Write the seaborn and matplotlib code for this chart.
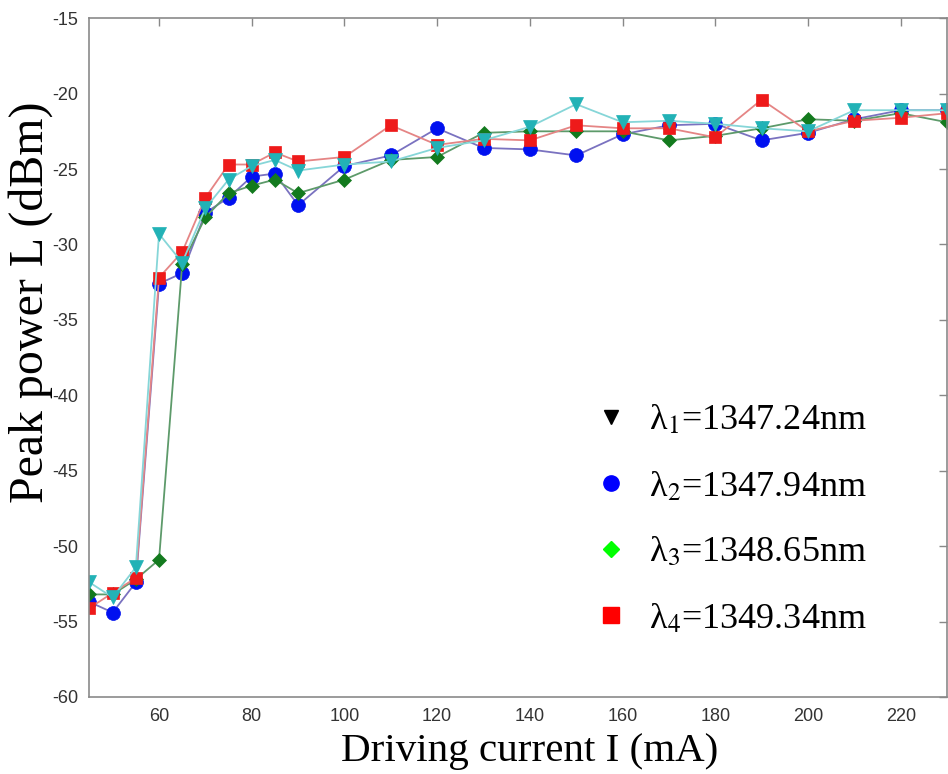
import numpy as np
import pandas as pd
import matplotlib
matplotlib.use("Agg")
import matplotlib.pyplot as plt
from matplotlib.lines import Line2D
import seaborn as sns

current = [45, 50, 55, 60, 65, 70, 75, 80, 85, 90, 100, 110, 120, 130, 140,
           150, 160, 170, 180, 190, 200, 210, 220, 230]
lam1 = [-52.4, -53.4, -51.4, -29.3, -31.2, -27.6, -25.7, -24.8, -24.4, -25.1, -24.7, -24.5,
        -23.6, -23.1, -22.2, -20.7, -21.9, -21.8, -22.0, -22.3, -22.5, -21.1, -21.1, -21.1]
lam2 = [-53.7, -54.4, -52.4, -32.6, -31.9, -27.9, -26.9, -25.5, -25.3, -27.4, -24.8, -24.1,
        -22.3, -23.6, -23.7, -24.1, -22.7, -22.1, -22.0, -23.1, -22.6, -21.7, -21.1, -21.1]
lam3 = [-53.2, -53.2, -52.2, -50.9, -31.3, -28.2, -26.6, -26.1, -25.7, -26.6, -25.7, -24.4,
        -24.2, -22.6, -22.5, -22.5, -22.5, -23.1, -22.8, -22.3, -21.7, -21.8, -21.3, -21.9]
lam4 = [-54.1, -53.1, -52.1, -32.2, -30.5, -26.9, -24.7, -24.7, -23.9, -24.5, -24.2, -22.1,
        -23.4, -23.0, -23.1, -22.1, -22.3, -22.3, -22.9, -20.4, -22.5, -21.8, -21.6, -21.3]
labels = ["λ$_1$=1347.24nm", "λ$_2$=1347.94nm", "λ$_3$=1348.65nm", "λ$_4$=1349.34nm"]
xticks = [60, 80, 100, 120, 140, 160, 180, 200, 220]
yticks = [-60, -55, -50, -45, -40, -35, -30, -25, -20, -15]

sns.set_style("white")
plt.rcParams["mathtext.fontset"] = "stix"
plt.rcParams["axes.unicode_minus"] = False

fig = plt.figure(figsize=(9.48, 7.74), dpi=100)
ax = fig.add_axes([0.0944, 0.0995, 0.9046, 0.877])

df = pd.DataFrame({"I": current, "l1": lam1, "l2": lam2, "l3": lam3, "l4": lam4})

# draw order: blue, green, red, cyan
series = [
    ("l2", "o", "#7a72c0", "#0010f0", 10),
    ("l3", "D", "#5d9a6a", "#137a1e", 7.5),
    ("l4", "s", "#e58585", "#ee1a1a", 9),
    ("l1", "v", "#86d6d8", "#22b2b6", 10.5),
]
for col, mk, lc, mc, ms in series:
    sns.lineplot(data=df, x="I", y=col, ax=ax, color=lc, lw=1.3, marker=mk,
                 markersize=ms, markerfacecolor=mc, markeredgecolor=mc,
                 markeredgewidth=0.5, estimator=None, sort=False)

ax.set_xlim(45, 230)
ax.set_ylim(-60, -15)
ax.set_xticks(xticks)
ax.set_yticks(yticks)
ax.tick_params(axis="both", direction="in", length=6, width=1, color="#888888",
               labelsize=13, labelcolor="#333333", top=True, right=True,
               labeltop=False, labelright=False, pad=8)
for lab in ax.get_xticklabels() + ax.get_yticklabels():
    lab.set_family("Liberation Sans")
for sp in ax.spines.values():
    sp.set_color("#8a8a8a")
    sp.set_linewidth(1.2)

ax.set_xlabel("Driving current I (mA)", fontsize=29.5, family="Liberation Serif", color="black")
ax.set_ylabel("Peak power L (dBm)", fontsize=34.5, family="Liberation Serif", color="black")
ax.xaxis.set_label_coords(0.513, -0.053)
ax.yaxis.set_label_coords(-0.042, 0.582)

handles = [
    Line2D([], [], ls="", marker="v", color="black", markersize=10),
    Line2D([], [], ls="", marker="o", color="#0000ff", markersize=11),
    Line2D([], [], ls="", marker="D", color="#00ff00", markersize=8),
    Line2D([], [], ls="", marker="s", color="#ff0000", markersize=11),
]
leg = ax.legend(handles, labels, loc="upper left", bbox_to_anchor=(0.545, 0.48),
                frameon=False, prop={"family": "Liberation Serif", "size": 26},
                labelspacing=0.9, handlelength=1.2, handletextpad=0.45,
                labelcolor="black")

fig.savefig("out.png", dpi=100)
